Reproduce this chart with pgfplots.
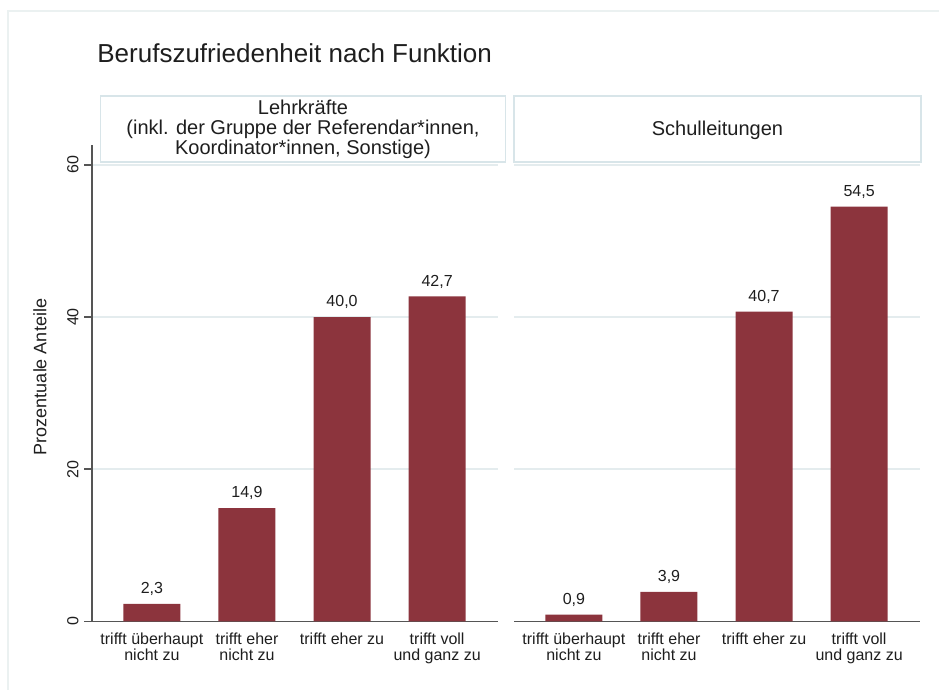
\documentclass[border=0pt]{standalone}
\usepackage{pgfplots}
\pgfplotsset{compat=1.18}
\usepackage{fontspec}
\setmainfont{Liberation Sans}
\definecolor{barred}{HTML}{8C343D}
\definecolor{gridc}{HTML}{E4ECEE}
\definecolor{boxc}{HTML}{D8E5E9}
\definecolor{framec}{HTML}{EBF1F1}
\definecolor{axc}{HTML}{555555}
\definecolor{txt}{HTML}{1E1E1E}
\pgfplotsset{
 panel/.style={
  scale only axis, width=203pt, height=238.25pt,
  ymin=0, ymax=62.6, xmin=0.37, xmax=4.64,
  ybar, bar width=28.5pt,
  axis x line=bottom, axis y line=left,
  axis line style={-, axc, line width=0.8pt},
  xtick={1,2,3,4},
  xticklabels={trifft überhaupt\\nicht zu, trifft eher\\nicht zu, trifft eher zu, trifft voll\\und ganz zu},
  xticklabel style={align=center, font=\fontsize{8}{7.8}\selectfont, anchor=north, inner sep=0pt, text=txt},
  xticklabel shift=1.75pt,
  xtick style={draw=none},
  ytick={0,20,40,60},
  ymajorgrids, grid style={gridc, line width=0.8pt},
  tick align=outside, major tick length=4pt,
  ytick style={axc, line width=0.8pt},
  yticklabel style={rotate=90, anchor=south, inner sep=0pt, font=\fontsize{8}{8}\selectfont, text=txt},
  yticklabel shift=2.5pt,
  /pgf/number format/assume math mode=true,
  nodes near coords={\pgfmathprintnumber[fixed,fixed zerofill,precision=1,use comma]{\pgfplotspointmeta}},
  every node near coord/.append style={font=\fontsize{8}{8}\selectfont, anchor=south, inner sep=0pt, text depth=0pt, yshift=5pt, text=txt},
  clip=false,
 }
}
\begin{document}
\begin{tikzpicture}[x=0.5pt,y=0.5pt]
\useasboundingbox (0,0) rectangle (939,690);
\draw[framec, line width=1pt] (8,0) -- (8,679) -- (939,679);
\node[anchor=base west, inner sep=0pt, font=\fontsize{13}{13}\selectfont, text=txt] at (97,627) {Berufszufriedenheit nach Funktion};
\draw[boxc, line width=0.6pt] (100.7,528) rectangle (505.7,594);
\node[align=center, font=\fontsize{10}{10}\selectfont, text=txt] at (303,561) {Lehrkräfte\\(inkl. der Gruppe der Referendar*innen,\\Koordinator*innen, Sonstige)};
\draw[boxc, line width=0.6pt] (514,528) rectangle (921,594);
\node[font=\fontsize{10}{10}\selectfont, text=txt] at (717.5,560) {Schulleitungen};
\node[rotate=90, font=\fontsize{9}{9}\selectfont, text=txt] at (40,313) {Prozentuale Anteile};
\begin{axis}[panel, at={(46pt,34.25pt)}, anchor=south west]
\addplot[fill=barred, draw=none] coordinates {(1,2.3) (2,14.9) (3,40.0) (4,42.7)};
\end{axis}
\begin{axis}[panel, at={(257pt,34.25pt)}, anchor=south west,
  y axis line style={draw=none}, ytick style={draw=none}, yticklabels={}]
\addplot[fill=barred, draw=none] coordinates {(1,0.9) (2,3.9) (3,40.7) (4,54.5)};
\end{axis}
\end{tikzpicture}
\end{document}
